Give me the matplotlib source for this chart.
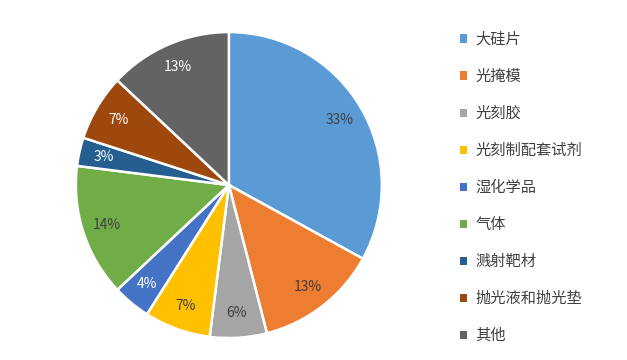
import matplotlib
matplotlib.use('Agg')
import matplotlib.pyplot as plt
import matplotlib.patches as mpatches

plt.rcParams['font.family'] = ['Noto Sans CJK SC', 'DejaVu Sans']

# Share of semiconductor materials market
categories = ['大硅片', '光掩模', '光刻胶', '光刻制配套试剂', '湿化学品',
              '气体', '溅射靶材', '抛光液和抛光垫', '其他']
shares = [33, 13, 6, 7, 4, 14, 3, 7, 13]
colors = ['#5B9BD5', '#ED7D31', '#A5A5A5', '#FFC000', '#4472C4',
          '#70AD47', '#255E91', '#9E480E', '#636363']
label_colors = ['#404040', '#404040', '#404040', '#404040', '#FFFFFF',
                '#404040', '#FFFFFF', '#FFFFFF', '#FFFFFF']

fig = plt.figure(figsize=(6.27, 3.6), dpi=100)
ax = fig.add_axes([0.121, 0.061, 0.488, 0.85])

wedges, texts = ax.pie(
    shares,
    colors=colors,
    startangle=90,
    counterclock=False,
    labels=[f'{s}%' for s in shares],
    labeldistance=0.84,
    wedgeprops={'edgecolor': 'white', 'linewidth': 1.8},
    textprops={'fontsize': 10},
)
for t, c in zip(texts, label_colors):
    t.set_color(c)
    t.set_horizontalalignment('center')
    t.set_verticalalignment('center')
ax.set_xlim(-1.0, 1.0)
ax.set_ylim(-1.0, 1.0)
ax.set_aspect('equal')

# Legend on the right
handles = [mpatches.Patch(facecolor=c, edgecolor='none', label=l)
           for c, l in zip(colors, categories)]
fig.legend(handles=handles, loc='upper left', bbox_to_anchor=(0.712, 0.952),
           frameon=False, fontsize=11, labelcolor='#404040',
           handlelength=0.45, handleheight=0.45, handletextpad=0.55,
           labelspacing=1.31)

plt.savefig('out.png', dpi=100)
